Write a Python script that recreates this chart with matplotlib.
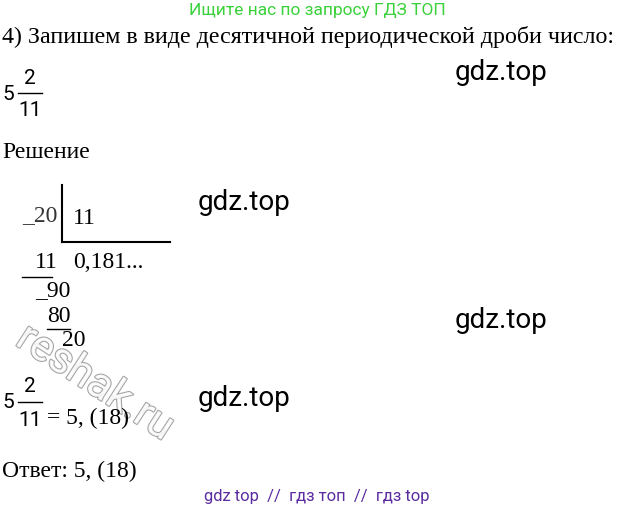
import matplotlib.pyplot as plt
import matplotlib.patheffects as pe

header = "Ищите нас по запросу ГДЗ ТОП"
task = "4) Запишем в виде десятичной периодической дроби число:"
footer = "gdz top  //  гдз топ  //  гдз top"
marks = [(455, 72), (198, 203), (455, 320), (198, 398)]

fig = plt.figure(figsize=(6.34, 5.13), dpi=100)
ax = fig.add_axes([0, 0, 1, 1])
ax.set_xlim(0, 634)
ax.set_ylim(513, 0)
ax.axis("off")

serif = "Liberation Serif"
def t(x, y, s, size=17, ha="left", **kw):
    kw.setdefault("family", serif)
    ax.text(x, y, s, fontsize=size, ha=ha, va="center", **kw)

t(317, 11, header, 12.5, "center", family="Roboto", color="#3ad13a")
t(2, 37, task, 17.3)

# 5 2/11
t(2, 95, "5", 15, family="Roboto")
t(30, 78, "2", 15, "center", family="Roboto")
t(30, 110, "11", 15, "center", family="Roboto")
ax.plot([18, 42], [93, 93], color="k", lw=1)

for x, y in marks:
    t(x, y, "gdz.top", 20, family="Roboto")

t(2, 152, "Решение", 17)

# long division
t(22, 216, "_20", 17, color="#333")
ax.plot([62, 62], [185, 242], color="k", lw=1.5)
ax.plot([62, 170], [242, 242], color="k", lw=1.5)
t(73, 218, "11", 17)
t(35, 262, "11", 17)
t(73, 262, "0,181...", 17)
ax.plot([22, 52], [277, 277], color="k", lw=1)
t(35, 291, "_90", 17)
t(47, 317, "80", 17)
ax.plot([47, 70], [329, 329], color="k", lw=1)
t(62, 341, "20", 17)

# watermark
ax.text(95, 383, "reshak.ru", fontsize=31, family="Roboto", rotation=-33,
        ha="center", va="center", color="white", alpha=0.9,
        path_effects=[pe.withStroke(linewidth=1.5, foreground="#999")])

# 5 2/11 = 5,(18)
t(2, 402, "5", 15, family="Roboto")
t(30, 386, "2", 15, "center", family="Roboto")
t(30, 420, "11", 15, "center", family="Roboto")
ax.plot([18, 42], [402, 402], color="k", lw=1)
t(47, 418, "= 5, (18)", 17)

t(2, 471, "Ответ: 5, (18)", 17)
t(317, 497, footer, 12, "center", family="Roboto", color="#5a2ca0")

fig.savefig("out.png", dpi=100)
